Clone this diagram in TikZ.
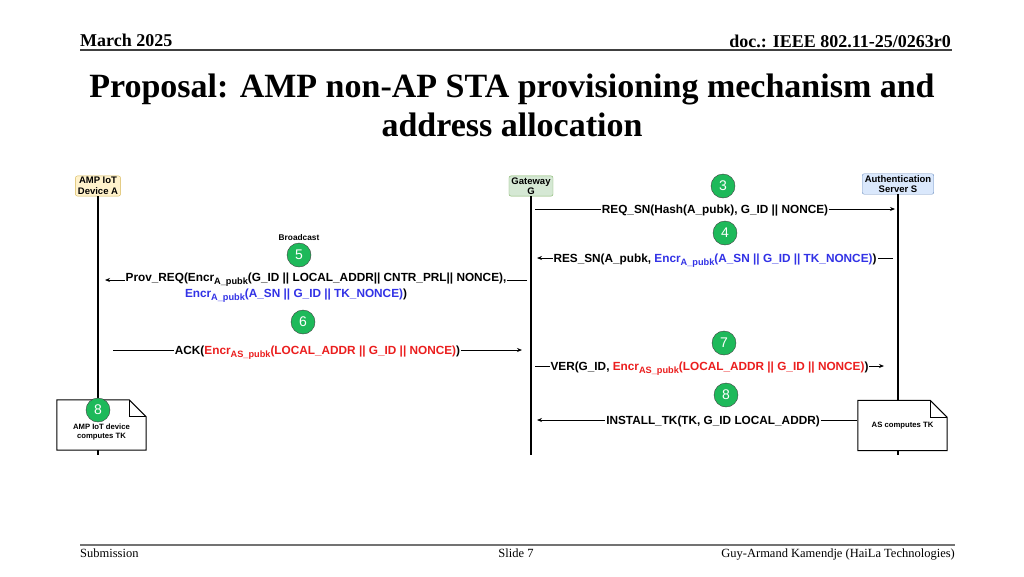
\documentclass[tikz,border=0pt]{standalone}
\usepackage{fontspec}
\setmainfont{Liberation Serif}
\setsansfont{Liberation Sans}
\usetikzlibrary{positioning,arrows.meta}

\definecolor{stepgreen}{RGB}{30,185,90}
\definecolor{encblue}{RGB}{50,50,230}
\definecolor{encred}{RGB}{235,30,30}
\definecolor{iotfill}{HTML}{FFF2CC}
\definecolor{iotline}{HTML}{D6B656}
\definecolor{gwfill}{HTML}{D5E8D4}
\definecolor{gwline}{HTML}{82B366}
\definecolor{asfill}{HTML}{DAE8FC}
\definecolor{asline}{HTML}{6C8EBF}

\newcommand{\encsub}[1]{\raisebox{-3pt}{\fontsize{9.2}{9.2}\selectfont #1}}

\begin{document}
\begin{tikzpicture}[x=1pt,y=-1pt,
	actor/.style = {draw, rounded corners=2pt, align=center, inner xsep=2.5pt, inner ysep=1.5pt,
		font=\sffamily\bfseries\fontsize{9.5}{10.5}\selectfont},
	lifeline/.style = {line width=1.6pt},
	stepnum/.style = {circle, draw=black!75, fill=stepgreen, text=white, minimum size=24pt,
		inner sep=0pt, font=\sffamily\fontsize{14}{14}\selectfont},
	msg/.style = {fill=white, inner sep=1pt, text height=9pt, text depth=0.4pt,
		font=\sffamily\bfseries\fontsize{11.8}{13}\selectfont},
	arr/.style = {line width=0.8pt, -{Stealth[length=5pt,width=4pt]}},
	notebox/.style = {fill=white, minimum width=89pt, minimum height=50pt, align=center,
		font=\sffamily\bfseries\fontsize{7.7}{9}\selectfont},
	fold/.style = {line width=1pt},
	slidetext/.style = {inner sep=0pt, font=\fontsize{12.5}{14}\selectfont}]

	\useasboundingbox (0,0) rectangle (1024,576);

	% slide header and title
	\node[slidetext, anchor=base west, font=\bfseries\fontsize{18}{20}\selectfont] (date) at (80,46) {March 2025};
	\node[slidetext, anchor=base east, font=\bfseries\fontsize{18}{20}\selectfont] (docid) at (951,47) {doc.: IEEE 802.11-25/0263r0};
	\coordinate (headl) at (80,50);
	\coordinate (headr) at (952,50);
	\draw[line width=1.5pt, black!75] (headl) -- (headr);
	\node[anchor=base, font=\bfseries\fontsize{34}{40}\selectfont] (title1) at (512,97) {Proposal: AMP non-AP STA provisioning mechanism and};
	\node[anchor=base, font=\bfseries\fontsize{34}{40}\selectfont] (title2) at (512,136) {address allocation};

	% the three parties and their lifelines
	\node[actor, fill=iotfill, draw=iotline] (devA) at (98,186) {AMP IoT\\Device A};
	\node[actor, fill=gwfill, draw=gwline] (gw) at (531,186) {Gateway\\G};
	\node[actor, fill=asfill, draw=asline] (as) at (898,184) {Authentication\\Server S};
	\coordinate (devAend) at (98,455);
	\coordinate (gwend) at (531,455);
	\coordinate (asend) at (898,455);
	\draw[lifeline] (devA) -- (devAend);
	\draw[lifeline] (gw) -- (gwend);
	\draw[lifeline] (as) -- (asend);

	% message end points
	\coordinate (m3s) at (535,209);  \coordinate (m3e) at (895,209);
	\coordinate (m4s) at (893,258);  \coordinate (m4e) at (537,258);
	\coordinate (m5s) at (527,280);  \coordinate (m5e) at (105,280);
	\coordinate (m6s) at (113,350);  \coordinate (m6e) at (522,350);
	\coordinate (m7s) at (535,366);  \coordinate (m7e) at (884,366);
	\coordinate (m8s) at (857,420);  \coordinate (m8e) at (537,420);

	% notes (outline drawn over the white box)
	\node[notebox] (noteA) at (101.5,425) {\mbox{}\\[10pt]AMP IoT device\\computes TK};
	\node[notebox] (noteS) at (902.5,425.5) {AS computes TK};
	\foreach \n in {noteA, noteS} {
		\draw[fold] (\n.south west) -- (\n.north west) -- ([xshift=-17pt]\n.north east)
			-- ([yshift=-17pt]\n.north east) -- (\n.south east) -- cycle;
		\draw[fold] ([xshift=-17pt]\n.north east) |- ([yshift=-17pt]\n.north east);
	}

	% messages
	\draw[arr] (m3s) -- node[msg] {REQ\_SN(Hash(A\_pubk), G\_ID || NONCE)} (m3e);
	\draw[arr] (m4s) -- node[msg] {RES\_SN(A\_pubk, \textcolor{encblue}{Encr\encsub{A\_pubk}(A\_SN || G\_ID || TK\_NONCE)})} (m4e);
	\draw[arr] (m5s) -- node[msg, yshift=3pt] (prov) {Prov\_REQ(Encr\encsub{A\_pubk}(G\_ID || LOCAL\_ADDR|| CNTR\_PRL|| NONCE),} (m5e);
	\node[msg, below=4pt of prov, xshift=-20pt] (prov2) {\textcolor{encblue}{Encr\encsub{A\_pubk}(A\_SN || G\_ID || TK\_NONCE)})};
	\draw[arr] (m6s) -- node[msg] {ACK(\textcolor{encred}{Encr\encsub{AS\_pubk}(LOCAL\_ADDR || G\_ID || NONCE)})} (m6e);
	\draw[arr] (m7s) -- node[msg] {VER(G\_ID, \textcolor{encred}{Encr\encsub{AS\_pubk}(LOCAL\_ADDR || G\_ID || NONCE)})} (m7e);
	\draw[arr] (m8s) -- node[msg, pos=0.45] {INSTALL\_TK(TK, G\_ID LOCAL\_ADDR)} (m8e);

	% step numbers
	\node[stepnum] (s3) at (723,186) {3};
	\node[stepnum] (s4) at (725,233) {4};
	\node[stepnum] (s5) at (299,255) {5};
	\node[above=-1pt of s5, font=\sffamily\bfseries\fontsize{8.3}{9}\selectfont] (bcast) {Broadcast};
	\node[stepnum] (s6) at (303,322) {6};
	\node[stepnum] (s7) at (724,343) {7};
	\node[stepnum] (s8s) at (726,395) {8};
	\node[stepnum] (s8a) at (98,410) {8};

	% footer
	\coordinate (footl) at (80,545);
	\coordinate (footr) at (955,545);
	\draw[line width=2pt, black!55] (footl) -- (footr);
	\node[slidetext, anchor=base west] (submis) at (80,557) {Submission};
	\node[slidetext, anchor=base] (slide) at (516,557) {Slide 7};
	\node[slidetext, anchor=base east] (author) at (955,557) {Guy-Armand Kamendje (HaiLa Technologies)};
\end{tikzpicture}
\end{document}
